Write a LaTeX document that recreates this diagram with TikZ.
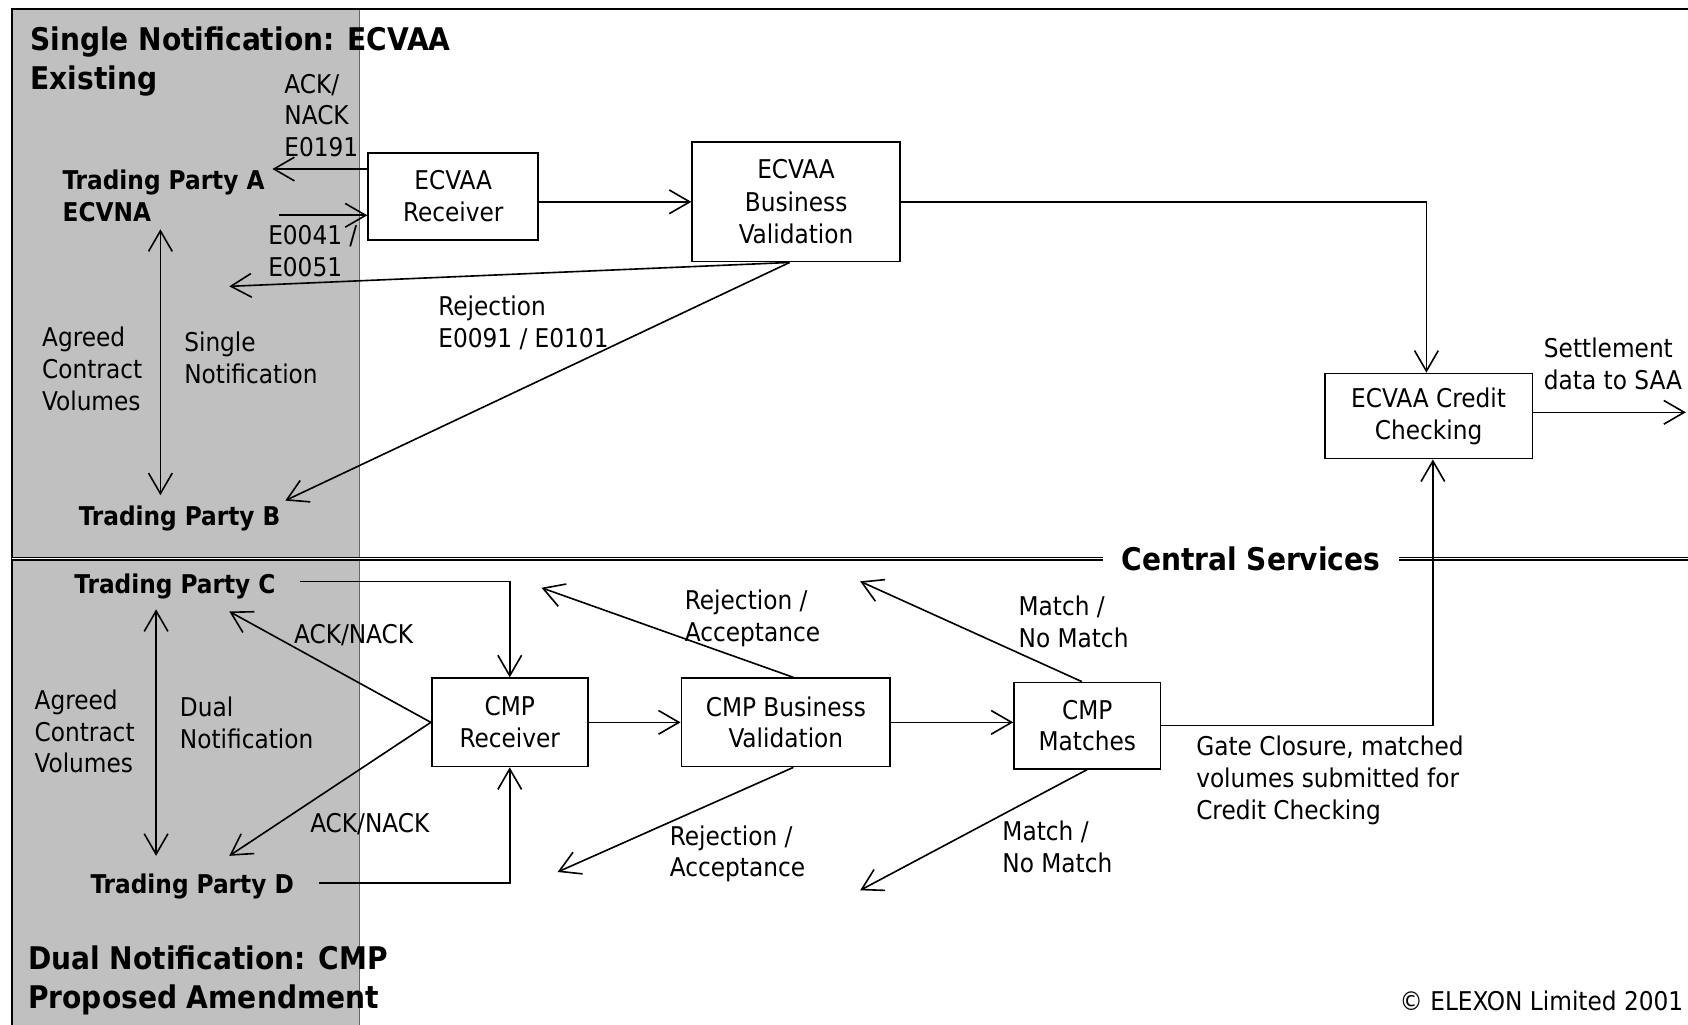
\documentclass[tikz,border=0pt]{standalone}
\usepackage{fontspec}
\setmainfont{DejaVu Sans Condensed}
\usetikzlibrary{arrows.meta,calc}
\definecolor{panelgray}{HTML}{C0C0C0}
\begin{document}
\begin{tikzpicture}[x=1pt,y=-1pt,
  txt/.style={anchor=north west, inner sep=0pt, align=left, font=\fontsize{24}{29.5}\selectfont},
  btxt/.style={anchor=north west, inner sep=0pt, align=left, font=\fontsize{24}{30}\selectfont\bfseries},
  ttl/.style={anchor=north west, inner sep=0pt, align=left, font=\fontsize{29}{36}\selectfont\bfseries},
  box/.style={draw, line width=1.6pt, align=center, inner sep=0pt, fill=white, font=\fontsize{24}{29.5}\selectfont},
  barb/.tip={Straight Barb[length=19pt,width=22pt,line width=1.5pt]},
  arr/.style={line width=1.5pt, -barb},
  darr/.style={line width=1.5pt, barb-barb},
  divider/.style={line width=1.2pt, double, double distance=1.1pt}
]
\useasboundingbox (0,0) rectangle (1568,952);
\clip (0,0) rectangle (1568,952);

% panels
\fill[panelgray] (11,8) rectangle (334,960);
\draw[line width=0.9pt, black!60] (334,8) -- (334,960);
\draw[line width=1.8pt] (11,962) -- (11,8) -- (1572,8);

% titles
\node[ttl] (t1) at (28,24.5) {Single Notification: ECVAA\\Existing};
\node[ttl] (t2) at (26,878.5) {Dual Notification: CMP\\Proposed Amendment};

% divider
\node[inner xsep=17pt, inner ysep=2pt, font=\fontsize{29}{36}\selectfont\bfseries] (cs) at (1162,519) {Central Services};
\draw[divider] (11,519) -- (cs.west);
\draw[divider] (cs.east) -- (1572,519);

% boxes
\node[box, minimum width=158, minimum height=81] (recv) at (421,182.5) {ECVAA\\Receiver};
\node[box, minimum width=193, minimum height=111, font=\fontsize{24}{30}\selectfont] (bv) at (739.5,187.5) {ECVAA\\Business\\Validation};
\node[box, minimum width=193, minimum height=79] (cc) at (1327,386.5) {ECVAA Credit\\Checking};
\node[box, minimum width=145, minimum height=82] (cmpr) at (473.5,671) {CMP\\Receiver};
\node[box, minimum width=194, minimum height=82] (cmpbv) at (730,671) {CMP Business\\Validation};
\node[box, minimum width=136, minimum height=80] (cmpm) at (1010,674) {CMP\\Matches};

% parties
\node[btxt] (tpa) at (58,157.5) {Trading Party A\\ECVNA};
\node[btxt] (tpb) at (73,469.5) {Trading Party B};
\node[btxt] (tpc) at (69,532.5) {Trading Party C};
\node[btxt] (tpd) at (84,811.5) {Trading Party D};

% labels
\node[txt] (lack) at (264,68.5) {ACK/\\NACK\\E0191};
\node[txt] (lin) at (249,209.5) {E0041 /\\E0051};
\node[txt] (lrej) at (407,274.5) {Rejection\\E0091 / E0101};
\node[txt] (lagr1) at (39,303.5) {Agreed\\Contract\\Volumes};
\node[txt] (lsingle) at (171,308.5) {Single\\Notification};
\node[txt] (lsaa) at (1434,313.5) {Settlement\\data to SAA};
\node[txt] (lackc) at (273,579.5) {ACK/NACK};
\node[txt] (lackd) at (288,755.5) {ACK/NACK};
\node[txt] (lagr2) at (32,640.5) {Agreed\\Contract\\Volumes};
\node[txt] (ldual) at (167,647.5) {Dual\\Notification};
\node[txt] (lra1) at (636,547.5) {Rejection /\\Acceptance};
\node[txt] (lra2) at (622,766.5) {Rejection /\\Acceptance};
\node[txt] (lm1) at (946,553.5) {Match /\\No Match};
\node[txt] (lm2) at (931,762.5) {Match /\\No Match};
\node[txt] (lgate) at (1111,683.5) {Gate Closure, matched\\volumes submitted for\\Credit Checking};
\node[txt] (lcopy) at (1300,920.5) {© ELEXON Limited 2001};

% connector end points
\coordinate (ackEnd) at (253,157);
\coordinate (inStart) at (259,200);
\coordinate (rejAEnd) at (213,266);
\coordinate (rejBEnd) at (265,465);
\coordinate (abTop) at (149,213);
\coordinate (abBot) at (149,460);
\coordinate (saaEnd) at (1566,383);
\coordinate (cStart) at (279,540);
\coordinate (dStart) at (296,820);
\coordinate (ackC) at (213,568);
\coordinate (ackD) at (213,795);
\coordinate (cdTop) at (145,566);
\coordinate (cdBot) at (145,795);
\coordinate (ra1) at (503,546);
\coordinate (ra2) at (518,810);
\coordinate (m1) at (799,540);
\coordinate (m2) at (799,827);

% upper connectors
\draw[arr] (recv.west |- ackEnd) -- (ackEnd);
\draw[arr] (inStart) -- (inStart -| recv.west);
\draw[arr] (recv.east |- bv.west) -- (bv.west);
\draw[arr] (bv.east) -| ($(cc.north)+(-2,0)$);
\draw[arr] ($(bv.south)+(-6,0)$) -- (rejAEnd);
\draw[arr] ($(bv.south)+(-6,0)$) -- (rejBEnd);
\draw[darr] (abTop) -- (abBot);
\draw[arr] (cc.east |- saaEnd) -- (saaEnd);
\draw[arr] (cmpm.east) -| ($(cc.south)+(4,0)$);

% lower connectors
\draw[arr] (cStart) -| (cmpr.north);
\draw[arr] (dStart) -| (cmpr.south);
\draw[arr] (cmpr.west) -- (ackC);
\draw[arr] (cmpr.west) -- (ackD);
\draw[darr] (cdTop) -- (cdBot);
\draw[arr] (cmpr.east) -- (cmpr.east -| cmpbv.west);
\draw[arr] ($(cmpbv.north)+(7,0)$) -- (ra1);
\draw[arr] ($(cmpbv.south)+(7,0)$) -- (ra2);
\draw[arr] (cmpbv.east) -- (cmpbv.east -| cmpm.west);
\draw[arr] ($(cmpm.north)+(-5,0)$) -- (m1);
\draw[arr] (cmpm.south) -- (m2);
\end{tikzpicture}
\end{document}
